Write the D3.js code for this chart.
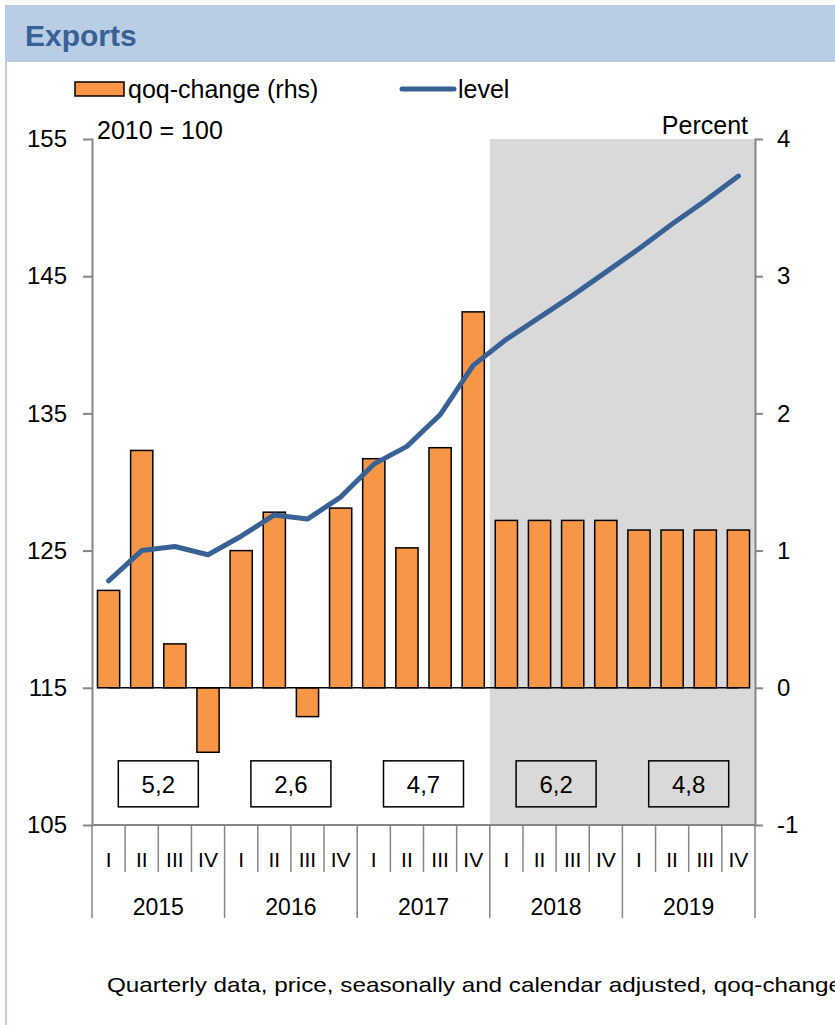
<!DOCTYPE html>
<html>
<head>
<meta charset="utf-8">
<title>Exports</title>
<script src="https://cdn.jsdelivr.net/npm/d3@7"></script>
<style>
  body { margin: 0; background: #fff; }
  svg text { font-family: "Liberation Sans", Arial, sans-serif; fill: #000; }
  .axis path, .axis line { stroke: #868686; stroke-width: 2; }
  .axis text { font-size: 24px; }
</style>
</head>
<body>
<svg id="svgChart" width="835" height="1025"></svg>
<script>
/*
  Exports: quarterly level (2010 = 100) with qoq-change bars on the right axis.
  Values.
*/

var YEARS = ["2015", "2016", "2017", "2018", "2019"];
var QUARTERS = ["I", "II", "III", "IV"];

// qoq-change in percent (rhs)
var qoqChange = [0.71, 1.73, 0.32, -0.47,
                 1.00, 1.28, -0.21, 1.31,
                 1.67, 1.02, 1.75, 2.74,
                 1.22, 1.22, 1.22, 1.22,
                 1.15, 1.15, 1.15, 1.15];

// level, 2010 = 100 (lhs)
var level = [122.8, 125.0, 125.3, 124.7,
             126.05, 127.6, 127.3, 128.9,
             131.3, 132.6, 134.9, 138.5,
             140.4, 142.0, 143.6, 145.3,
             147.0, 148.8, 150.5, 152.3];

// annual growth in the boxes
var annualGrowth = [5.2, 2.6, 4.7, 6.2, 4.8];

// forecast years are shaded
var FORECAST_START = "2018";

var leftTicks = [105, 115, 125, 135, 145, 155];
var rightTicks = [-1, 0, 1, 2, 3, 4];

var periods = [];
YEARS.forEach(function(y) {
  QUARTERS.forEach(function(q) { periods.push(y + " " + q); });
});

var svg = d3.select("#svgChart");
var plot = {left: 92, right: 755, top: 139, bottom: 825};

// title bar and frame
svg.append("rect")
  .attr("x", 5).attr("y", 5)
  .attr("width", 830).attr("height", 57)
  .attr("fill", "#B9CDE5");

svg.append("line")
  .attr("x1", 6).attr("x2", 6)
  .attr("y1", 62).attr("y2", 1025)
  .attr("stroke", "#B9CDE5")
  .attr("stroke-width", 2);

svg.append("text")
  .attr("x", 25).attr("y", 46)
  .style("font-size", "30px")
  .style("font-weight", "bold")
  .style("fill", "#386196")
  .text("Exports");

// scales
var xBand = d3.scaleBand().domain(periods).range([plot.left, plot.right]);
var xBar = d3.scaleBand().domain(periods).range([plot.left, plot.right])
  .paddingInner(0.33).paddingOuter(0.165);
var yLeft = d3.scaleLinear().domain([105, 155]).range([plot.bottom, plot.top]);
var yRight = d3.scaleLinear().domain([-1, 4]).range([plot.bottom, plot.top]);

function center(p) {
  return xBand(p) + xBand.bandwidth() / 2;
}

// shaded forecast area
svg.append("rect")
  .attr("x", xBand(FORECAST_START + " I"))
  .attr("y", plot.top)
  .attr("width", plot.right - xBand(FORECAST_START + " I"))
  .attr("height", plot.bottom - plot.top)
  .attr("fill", "#D9D9D9");

// left axis
svg.append("g")
  .attr("class", "axis")
  .attr("transform", "translate(" + plot.left + ",0)")
  .call(d3.axisLeft(yLeft).tickValues(leftTicks).tickSize(9)
    .tickSizeOuter(0).tickPadding(16));

// right axis
svg.append("g")
  .attr("class", "axis")
  .attr("transform", "translate(" + plot.right + ",0)")
  .call(d3.axisRight(yRight).tickValues(rightTicks).tickSize(8)
    .tickSizeOuter(0).tickPadding(14)
    .tickFormat(function(d) { return String(d); }));

d3.selectAll(".axis .domain").attr("stroke-linecap", "square");

// category axis at the bottom
var gCat = svg.append("g").attr("class", "axis");

gCat.append("line")
  .attr("x1", plot.left).attr("x2", plot.right)
  .attr("y1", plot.bottom).attr("y2", plot.bottom);

periods.forEach(function(p, i) {
  var isYear = i % 4 === 0;
  gCat.append("line")
    .attr("x1", xBand(p)).attr("x2", xBand(p))
    .attr("y1", plot.bottom)
    .attr("y2", isYear ? 918 : 872)
    .style("stroke-width", 1.5);
});
gCat.append("line")
  .attr("x1", plot.right).attr("x2", plot.right)
  .attr("y1", plot.bottom).attr("y2", 918)
  .style("stroke-width", 1.5);

gCat.selectAll("text.quarter")
  .data(periods)
  .enter().append("text")
  .attr("class", "quarter")
  .attr("x", function(d) { return center(d); })
  .attr("y", 867)
  .style("font-size", "21px")
  .style("text-anchor", "middle")
  .text(function(d) { return d.split(" ")[1]; });

gCat.selectAll("text.year")
  .data(YEARS)
  .enter().append("text")
  .attr("class", "year")
  .attr("x", function(d) { return xBand(d + " I") + 2 * xBand.step(); })
  .attr("y", 915)
  .style("font-size", "23px")
  .style("text-anchor", "middle")
  .text(function(d) { return d; });

// bars (rhs)
svg.selectAll("rect.bar")
  .data(qoqChange)
  .enter().append("rect")
  .attr("class", "bar")
  .attr("x", function(d, i) { return xBar(periods[i]); })
  .attr("y", function(d) { return yRight(Math.max(0, d)); })
  .attr("width", xBar.bandwidth())
  .attr("height", function(d) { return Math.abs(yRight(d) - yRight(0)); })
  .attr("fill", "#F79646")
  .attr("stroke", "#000")
  .attr("stroke-width", 1.5);

// zero line
svg.append("line")
  .attr("x1", center(periods[0]))
  .attr("x2", center(periods[periods.length - 1]))
  .attr("y1", yRight(0)).attr("y2", yRight(0))
  .attr("stroke", "#000")
  .attr("stroke-width", 1.5);

// level line (lhs)
var valueline = d3.line()
  .x(function(d, i) { return center(periods[i]); })
  .y(function(d) { return yLeft(d); });

svg.append("path")
  .attr("d", valueline(level))
  .attr("fill", "none")
  .attr("stroke", "#386196")
  .attr("stroke-width", 5)
  .attr("stroke-linejoin", "round")
  .attr("stroke-linecap", "round");

// annual growth boxes
var gBox = svg.selectAll("g.box")
  .data(annualGrowth)
  .enter().append("g")
  .attr("class", "box")
  .attr("transform", function(d, i) {
    return "translate(" + (xBand(YEARS[i] + " I") + 2 * xBand.step()) + "," +
      yLeft(108) + ")";
  });

gBox.append("rect")
  .attr("x", -40).attr("y", -23)
  .attr("width", 80).attr("height", 46)
  .attr("fill", "none")
  .attr("stroke", "#000")
  .attr("stroke-width", 1.5);

gBox.append("text")
  .attr("y", 9)
  .style("font-size", "24px")
  .style("text-anchor", "middle")
  .text(function(d) { return d.toFixed(1).replace(".", ","); });

// axis titles
svg.append("text")
  .attr("x", 97).attr("y", 139)
  .style("font-size", "25px")
  .text("2010 = 100");

svg.append("text")
  .attr("x", 748).attr("y", 134)
  .style("font-size", "25px")
  .style("text-anchor", "end")
  .text("Percent");

// legend
svg.append("rect")
  .attr("x", 75).attr("y", 82)
  .attr("width", 49).attr("height", 14)
  .attr("fill", "#F79646")
  .attr("stroke", "#000")
  .attr("stroke-width", 1.5);

svg.append("text")
  .attr("x", 128).attr("y", 98)
  .style("font-size", "25px")
  .text("qoq-change (rhs)");

svg.append("line")
  .attr("x1", 402).attr("x2", 454)
  .attr("y1", 89).attr("y2", 89)
  .attr("stroke", "#386196")
  .attr("stroke-width", 5)
  .attr("stroke-linecap", "round");

svg.append("text")
  .attr("x", 458).attr("y", 98)
  .style("font-size", "25px")
  .text("level");

// footnote
svg.append("text")
  .attr("x", 107).attr("y", 992)
  .attr("textLength", 735)
  .attr("lengthAdjust", "spacingAndGlyphs")
  .style("font-size", "21px")
  .text("Quarterly data, price, seasonally and calendar adjusted, qoq-change");
</script>
</body>
</html>
